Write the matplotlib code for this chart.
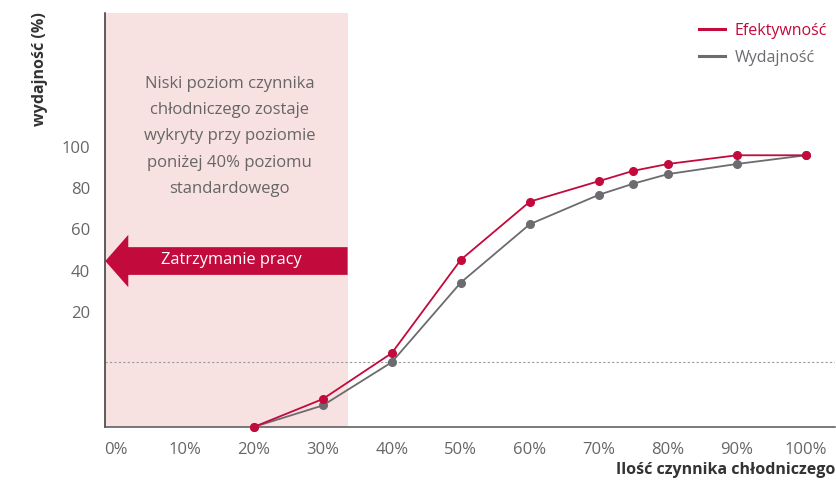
import matplotlib
matplotlib.use("Agg")
import matplotlib.pyplot as plt
from matplotlib.patches import FancyArrow
from matplotlib.lines import Line2D

plt.rcParams['font.family'] = ['Open Sans', 'DejaVu Sans']

# refrigerant charge (%) and relative values
charge = [20, 30, 40, 50, 60, 70, 75, 80, 90, 100]
efektywnosc = [-35.5, -22.0, 0.2, 45.3, 73.4, 83.3, 88.3, 91.6, 95.8, 95.8]
wydajnosc = [-35.5, -25.1, -4.2, 34.3, 62.5, 76.7, 82.1, 86.7, 91.6, 95.8]

xticks = [0, 10, 20, 30, 40, 50, 60, 70, 80, 90, 100]
yticks = [20, 40, 60, 80, 100]
stop_limit = 33.6
stop_line = -4.2

RED = '#C20A3C'
GREY = '#6B6B70'
PINK = '#F8E1E1'
TXT = '#666666'

fig = plt.figure(figsize=(8.37, 4.84), dpi=100)
ax = fig.add_axes([0.1258, 0.1178, 0.8718, 0.8547])
ax.set_xlim(-1.5, 104.2)
ax.set_ylim(-35.5, 164.4)

# low-refrigerant zone
ax.axvspan(-1.5, stop_limit, color=PINK, lw=0, zorder=0)
ax.axhline(stop_line, color='#9A9A9A', lw=0.8, ls=(0, (2, 2)), zorder=1)

ax.plot(charge, wydajnosc, color=GREY, lw=1.3, marker='o', ms=5.5, zorder=3,
        clip_on=False)
ax.plot(charge, efektywnosc, color=RED, lw=1.3, marker='o', ms=5.5, zorder=4,
        clip_on=False)

ax.text(16.5, 105, 'Niski poziom czynnika\nchłodniczego zostaje\nwykryty przy poziomie\n'
        'poniżej 40% poziomu\nstandardowego', ha='center', va='center',
        fontsize=12, color=TXT, linespacing=1.86)

arrow = FancyArrow(stop_limit, 44.7, -1.5 - stop_limit, 0, width=13.4,
                   head_width=25.3, head_length=3.33, length_includes_head=True,
                   color=RED, lw=0, zorder=5)
ax.add_patch(arrow)
ax.text(16.8, 45.2, 'Zatrzymanie pracy', color='white', fontsize=11.8,
        ha='center', va='center', zorder=6)

ax.set_xticks(xticks)
ax.set_xticklabels([f'{v}%' for v in xticks])
ax.set_yticks(yticks)
ax.tick_params(length=0, labelsize=12, colors=TXT)
ax.tick_params(axis='x', pad=11)
ax.tick_params(axis='y', pad=11)

for s in ['top', 'right']:
    ax.spines[s].set_visible(False)
ax.spines['left'].set_color('#333333')
ax.spines['left'].set_linewidth(1.1)
ax.spines['bottom'].set_color('#555555')
ax.spines['bottom'].set_linewidth(1.1)

fig.text(0.9976, 0.012, 'Ilość czynnika chłodniczego', ha='right', va='bottom',
         fontsize=11.5, fontweight='bold', color='#333333')
fig.text(40 / 837, 1 - 12 / 484, 'wydajność (%)', rotation=90, ha='center',
         va='top', fontsize=11.5, fontweight='bold', color='#333333')

handles = [Line2D([], [], color=RED, lw=2.2), Line2D([], [], color=GREY, lw=2.2)]
leg = ax.legend(handles, ['Efektywność', 'Wydajność'], loc='upper left',
                bbox_to_anchor=(699 / 837, 1 - 23 / 484),
                bbox_transform=fig.transFigure, frameon=False, fontsize=11.5,
                borderpad=0, borderaxespad=0, handlelength=1.6,
                handletextpad=0.65, labelspacing=0.68, labelcolor=[RED, GREY])

fig.savefig('out.png', dpi=100)
